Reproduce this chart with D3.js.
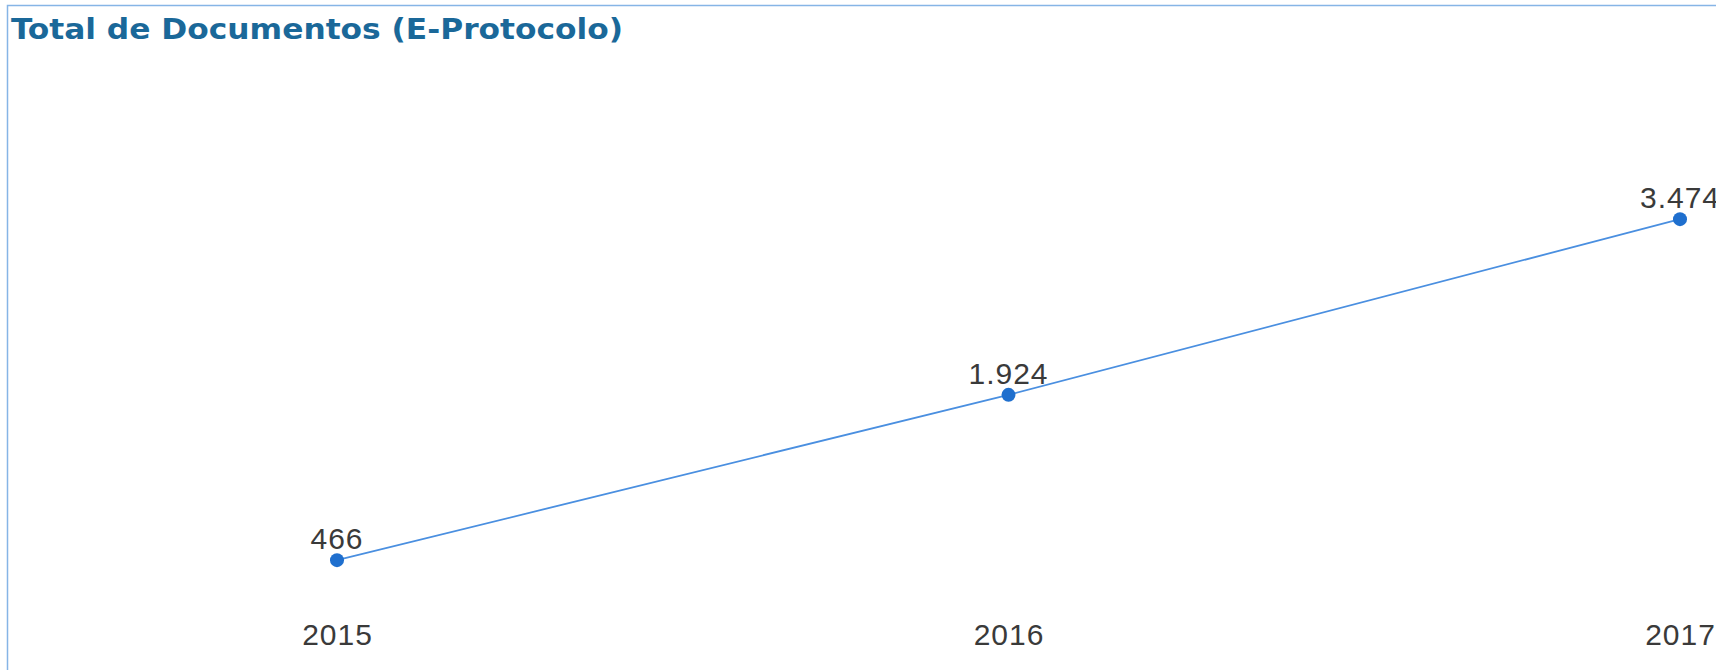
<!DOCTYPE html>
<html><head><meta charset="utf-8">
<script src="https://cdn.jsdelivr.net/npm/d3@7"></script>
<style>
html,body{margin:0;padding:0;background:#fff;overflow:hidden}
</style></head>
<body>
<svg id="c" width="1716" height="670"></svg>
<script>
const title = "Total de Documentos (E-Protocolo)";
const years = ["2015", "2016", "2017"];
const totals = [466, 1924, 3474];

const W = 1716, H = 670;
const svg = d3.select("#c");
const fmt = d3.formatLocale({decimal: ",", thousands: ".", grouping: [3], currency: ["R$", ""]}).format(",d");

// frame
svg.append("rect").attr("x", 7.5).attr("y", 5.5).attr("width", W + 20).attr("height", H + 20)
  .attr("fill", "none").attr("stroke", "#86b5e6").attr("stroke-width", 1.5);

svg.append("text").attr("x", 11).attr("y", 39)
  .attr("font-family", "DejaVu Sans Condensed, DejaVu Sans, Verdana, sans-serif").attr("font-weight", "bold")
  .attr("font-size", 28).attr("fill", "#1a6899")
  .attr("textLength", 612).attr("lengthAdjust", "spacingAndGlyphs")
  .text(title);

const x = d3.scalePoint().domain(years).range([337, 1680]);
const y = d3.scaleLinear().domain([0, 4000]).range([613, 159.5]);

const data = years.map((yr, i) => ({yr, v: totals[i]}));

svg.append("path").datum(data)
  .attr("fill", "none").attr("stroke", "#4a8fe0").attr("stroke-width", 1.8)
  .attr("d", d3.line().x(d => x(d.yr)).y(d => y(d.v)));

svg.selectAll("circle.pt").data(data).join("circle")
  .attr("cx", d => x(d.yr)).attr("cy", d => y(d.v)).attr("r", 7)
  .attr("fill", "#1f6fce");

svg.selectAll("text.val").data(data).join("text")
  .attr("class", "val")
  .attr("x", d => x(d.yr)).attr("y", d => y(d.v) - 11)
  .attr("text-anchor", "middle")
  .attr("font-family", "Liberation Sans, Arial, sans-serif").attr("font-size", 30)
  .attr("fill", "#3a3a3a").attr("letter-spacing", 1)
  .text(d => fmt(d.v));

const xAxis = d3.axisBottom(x).tickSize(0).tickPadding(0);
const g = svg.append("g").attr("transform", "translate(0,624)").call(xAxis);
g.select(".domain").remove();
g.selectAll("text").attr("font-family", "Liberation Sans, Arial, sans-serif")
  .attr("font-size", 30).attr("fill", "#3a3a3a").attr("letter-spacing", 1).attr("dy", "0.71em");
</script>
</body></html>
